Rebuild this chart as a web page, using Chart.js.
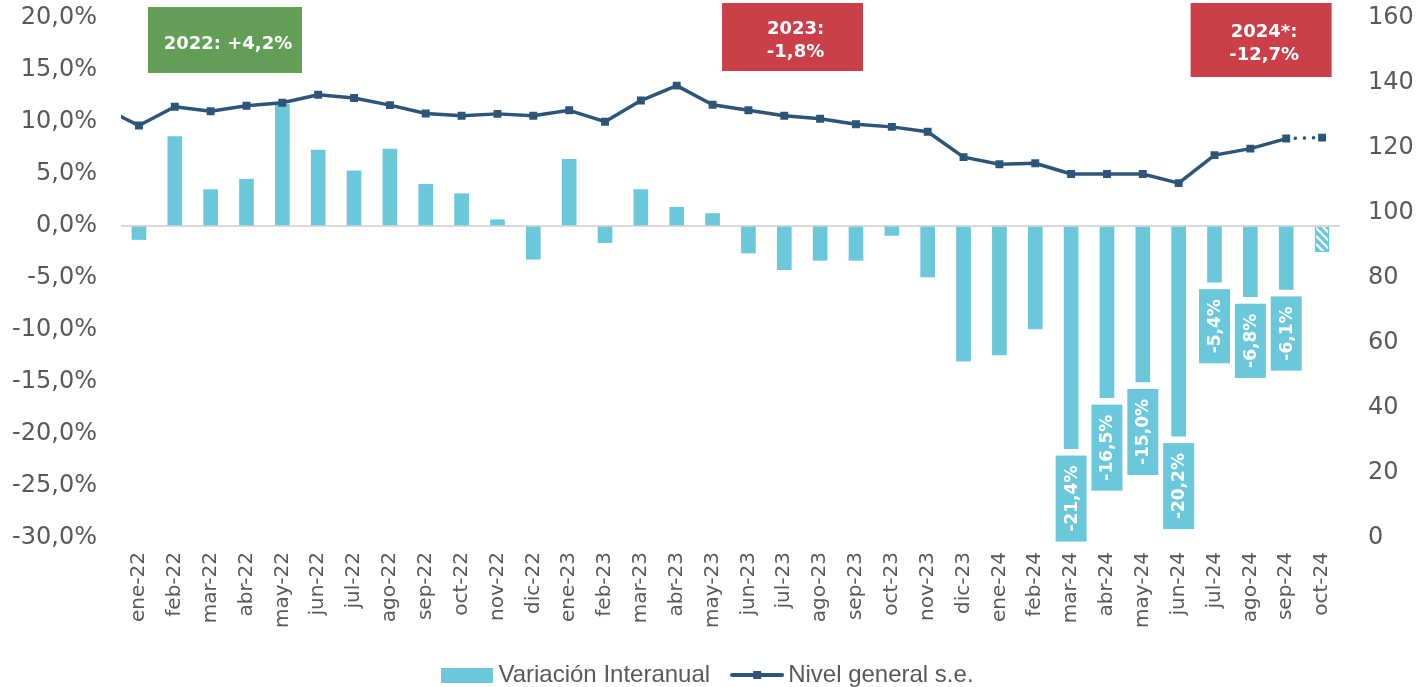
<!DOCTYPE html>
<html>
<head>
<meta charset="utf-8">
<title>Variación interanual y nivel general s.e.</title>
<script src="https://cdn.jsdelivr.net/npm/chart.js"></script>
<style>
  html, body { margin: 0; padding: 0; background: #fff; }
  #wrap { width: 1422px; height: 687px; }
</style>
</head>
<body>
<div id="wrap"><canvas id="grafico" width="1422" height="687"></canvas></div>
<script>
// mes anterior al primero mostrado: solo sirve para que la linea entre desde el borde
var mesPrevio = 'dic-21';
var nivelPrevio = 132.4;

var meses = ['ene-22', 'feb-22', 'mar-22', 'abr-22', 'may-22', 'jun-22', 'jul-22', 'ago-22', 'sep-22', 'oct-22', 'nov-22', 'dic-22',
             'ene-23', 'feb-23', 'mar-23', 'abr-23', 'may-23', 'jun-23', 'jul-23', 'ago-23', 'sep-23', 'oct-23', 'nov-23', 'dic-23',
             'ene-24', 'feb-24', 'mar-24', 'abr-24', 'may-24', 'jun-24', 'jul-24', 'ago-24', 'sep-24', 'oct-24'];

// Variación Interanual (%), eje izquierdo
var variacion = [-1.3, 8.6, 3.5, 4.5, 11.7, 7.3, 5.3, 7.4, 4.0, 3.1, 0.6, -3.2,
                 6.4, -1.6, 3.5, 1.8, 1.2, -2.6, -4.2, -3.3, -3.3, -0.9, -4.9, -13.0,
                 -12.4, -9.9, -21.4, -16.5, -15.0, -20.2, -5.4, -6.8, -6.1, -2.5];

// Nivel general s.e., eje derecho
var nivel = [126.9, 132.7, 131.3, 133.0, 133.9, 136.4, 135.4, 133.2, 130.6, 129.9, 130.5, 129.9,
             131.6, 128.1, 134.6, 139.2, 133.3, 131.6, 129.9, 129.0, 127.3, 126.5, 125.0, 117.2,
             115.0, 115.3, 112.0, 112.0, 112.0, 109.2, 117.8, 119.8, 122.9, 123.2];

var conEtiqueta = ['mar-24', 'abr-24', 'may-24', 'jun-24', 'jul-24', 'ago-24', 'sep-24'];
var mesProvisorio = 'oct-24';

var resumenAnual = [['2022: +4,2%'], ['2023:', '-1,8%'], ['2024*:', '-12,7%']];

var celeste = '#6BC8DB';
var azul = '#2C5579';
var gris = '#595959';

function fmt(v) {
  return v.toFixed(1).replace('.', ',') + '%';
}

var etiquetas = [mesPrevio].concat(meses);
var datosVariacion = [null].concat(variacion);
var datosNivel = [nivelPrevio].concat(nivel);
var ultimo = datosNivel.length - 1;

var canvas = document.getElementById('grafico');
var ctx = canvas.getContext('2d');

// rayado para el mes provisorio
var trama = document.createElement('canvas');
trama.width = 8; trama.height = 8;
var tc = trama.getContext('2d');
tc.fillStyle = celeste;
tc.fillRect(0, 0, 8, 8);
tc.strokeStyle = '#fff';
tc.lineWidth = 2.2;
tc.beginPath();
tc.moveTo(-2, -2); tc.lineTo(10, 10);
tc.moveTo(-6, 2); tc.lineTo(2, 10);
tc.moveTo(2, -6); tc.lineTo(10, 2);
tc.stroke();
var patron = ctx.createPattern(trama, 'repeat');

var colores = etiquetas.map(function (m) { return m === mesProvisorio ? patron : celeste; });
var bordes = etiquetas.map(function (m) { return m === mesProvisorio ? 1.5 : 0; });

// muestras de la leyenda
var muestraBarra = document.createElement('canvas');
muestraBarra.width = 52; muestraBarra.height = 16;
var mb = muestraBarra.getContext('2d');
mb.fillStyle = celeste;
mb.fillRect(0, 1, 52, 15);

var muestraLinea = document.createElement('canvas');
muestraLinea.width = 54; muestraLinea.height = 16;
var ml = muestraLinea.getContext('2d');
ml.strokeStyle = azul;
ml.lineWidth = 4;
ml.lineCap = 'round';
ml.beginPath(); ml.moveTo(2, 8); ml.lineTo(52, 8); ml.stroke();
ml.fillStyle = azul;
ml.fillRect(23, 4, 8, 8);

var etiquetasBarras = {
  id: 'etiquetasBarras',
  afterDatasetsDraw: function (chart) {
    var meta = chart.getDatasetMeta(0);
    var c = chart.ctx;
    c.save();
    c.font = 'bold 17px "DejaVu Sans"';
    meta.data.forEach(function (bar, i) {
      if (conEtiqueta.indexOf(chart.data.labels[i]) < 0) return;
      var txt = fmt(chart.data.datasets[0].data[i]);
      var w = 31;
      var h = c.measureText(txt).width + 20;
      var top = bar.y + 7;
      c.fillStyle = celeste;
      c.fillRect(bar.x - w / 2, top, w, h);
      c.save();
      c.translate(bar.x, top + h / 2);
      c.rotate(-Math.PI / 2);
      c.fillStyle = '#fff';
      c.textAlign = 'center';
      c.textBaseline = 'middle';
      c.fillText(txt, 0, 1);
      c.restore();
    });
    c.restore();
  }
};

var recuadrosAnuales = {
  id: 'recuadrosAnuales',
  afterDatasetsDraw: function (chart) {
    var x = chart.scales.x;
    var c = chart.ctx;
    var cajas = [
      { centro: 2.4, ancho: 154, arriba: 7, alto: 66, color: '#629E55' },
      { centro: 18.23, ancho: 141, arriba: 3, alto: 68, color: '#CB3F49' },
      { centro: 31.3, ancho: 141, arriba: 3, alto: 74, color: '#CB3F49' }
    ];
    c.save();
    c.font = 'bold 18px "DejaVu Sans"';
    c.textAlign = 'center';
    c.textBaseline = 'middle';
    cajas.forEach(function (b, k) {
      var cx = x.getPixelForValue(b.centro + 1);
      c.fillStyle = b.color;
      c.fillRect(cx - b.ancho / 2, b.arriba, b.ancho, b.alto);
      var lineas = resumenAnual[k];
      var medio = b.arriba + b.alto / 2 + 4;
      c.fillStyle = '#fff';
      lineas.forEach(function (t, j) {
        c.fillText(t, cx + 3, medio + (j - (lineas.length - 1) / 2) * 23);
      });
    });
    c.restore();
  }
};

Chart.defaults.font.family = '"DejaVu Sans", Verdana, sans-serif';
Chart.defaults.color = gris;

function ejeVertical(ancho) {
  return function (s) {
    s.width = ancho;
    s.paddingTop = 0;
    s.paddingBottom = 0;
  };
}

new Chart(ctx, {
  type: 'bar',
  data: {
    labels: etiquetas,
    datasets: [{
      label: 'Variación Interanual',
      data: datosVariacion,
      yAxisID: 'y',
      order: 2,
      backgroundColor: colores,
      borderColor: celeste,
      borderWidth: bordes,
      barThickness: 14
    }, {
      type: 'line',
      label: 'Nivel general s.e.',
      data: datosNivel,
      yAxisID: 'y1',
      order: 1,
      borderColor: azul,
      backgroundColor: azul,
      borderWidth: 3.5,
      borderJoinStyle: 'round',
      pointStyle: 'rect',
      pointRadius: 5.6,
      pointBorderWidth: 0,
      tension: 0,
      segment: {
        borderDash: function (s) { return s.p1DataIndex === ultimo ? [0.1, 9] : undefined; },
        borderCapStyle: function (s) { return s.p1DataIndex === ultimo ? 'round' : 'butt'; }
      }
    }]
  },
  options: {
    responsive: false,
    animation: false,
    devicePixelRatio: 1,
    layout: { padding: { top: 18, bottom: -10, left: 0, right: 0 } },
    plugins: {
      tooltip: { enabled: false },
      legend: {
        position: 'bottom',
        labels: {
          usePointStyle: true,
          pointStyleWidth: 38,
          padding: 28,
          color: gris,
          font: { family: '"Liberation Sans", Arial, sans-serif', size: 24 },
          generateLabels: function () {
            return [
              { text: 'Variación Interanual', pointStyle: muestraBarra, fontColor: gris, lineWidth: 0, datasetIndex: 0, hidden: false },
              { text: 'Nivel general s.e.', pointStyle: muestraLinea, fontColor: gris, lineWidth: 0, datasetIndex: 1, hidden: false }
            ];
          }
        }
      }
    },
    scales: {
      x: {
        type: 'category',
        offset: true,
        min: meses[0],
        grid: { display: false, drawTicks: false, tickLength: 0 },
        border: { display: false },
        ticks: { autoSkip: false, minRotation: 90, maxRotation: 90, padding: 14, color: gris, font: { size: 20 } },
        afterFit: function (s) { s.height = 97; }
      },
      y: {
        position: 'left',
        min: -30,
        max: 20,
        ticks: { stepSize: 5, padding: 24, color: gris, font: { size: 24 }, callback: function (v) { return fmt(v); } },
        grid: {
          drawTicks: false,
          tickLength: 0,
          lineWidth: 2,
          color: function (c) { return c.tick && c.tick.value === 0 ? '#D9D9D9' : 'rgba(0,0,0,0)'; }
        },
        border: { display: false },
        afterFit: ejeVertical(121)
      },
      y1: {
        position: 'right',
        min: 0,
        max: 160,
        ticks: { stepSize: 20, padding: 28, color: gris, font: { size: 24 } },
        grid: { display: false, drawTicks: false, tickLength: 0 },
        border: { display: false },
        afterFit: ejeVertical(82)
      }
    }
  },
  plugins: [etiquetasBarras, recuadrosAnuales]
});
</script>
</body>
</html>
